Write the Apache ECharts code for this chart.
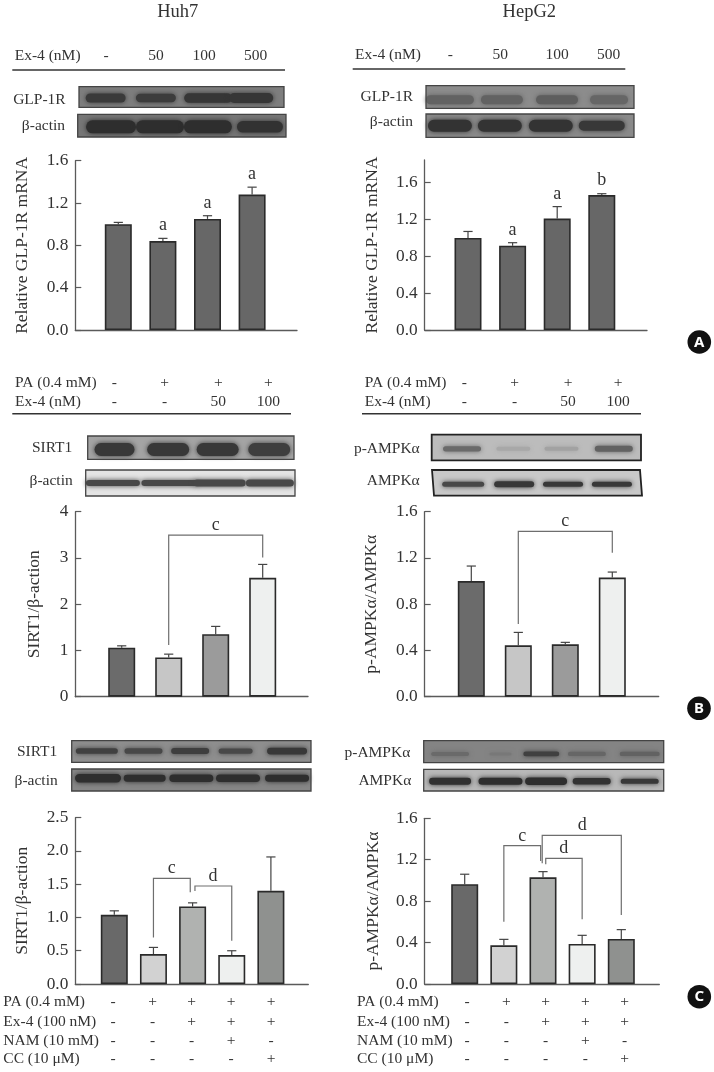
<!DOCTYPE html>
<html><head><meta charset="utf-8">
<style>html,body{margin:0;padding:0;background:#fff}#c{width:714px;height:1072px}</style>
<script src="https://cdn.jsdelivr.net/npm/echarts@6/dist/echarts.min.js"></script>
</head><body><div id="c"></div>
<script>
// ---------- data ----------
const ticksA1 = [0, 0.4, 0.8, 1.2, 1.6];
const ticksA2 = [0, 0.4, 0.8, 1.2, 1.6];
const ticksB1 = [0, 1, 2, 3, 4];
const ticksB2 = [0, 0.4, 0.8, 1.2, 1.6];
const ticksC1 = [0, 0.5, 1.0, 1.5, 2.0, 2.5];
const ticksC2 = [0, 0.4, 0.8, 1.2, 1.6];

const valuesA1 = [1.00, 0.84, 1.05, 1.28];
const topsA1   = [1.017, 0.866, 1.08, 1.35];
const valuesA2 = [1.00, 0.915, 1.21, 1.465];
const topsA2   = [1.07, 0.948, 1.34, 1.48];
const valuesB1 = [1.06, 0.85, 1.35, 2.57];
const topsB1   = [1.10, 0.92, 1.52, 2.86];
const valuesB2 = [1.00, 0.444, 0.453, 1.03];
const topsB2   = [1.13, 0.556, 0.47, 1.078];
const valuesC1 = [1.04, 0.45, 1.165, 0.435, 1.40];
const topsC1   = [1.10, 0.55, 1.22, 0.50, 1.91];
const valuesC2 = [0.963, 0.373, 1.03, 0.386, 0.435];
const topsC2   = [1.06, 0.431, 1.085, 0.47, 0.525];

// letter annotations: [bar position, y value, letter]
const lettersA1 = [[2, 0.986, 'a'], [3, 1.197, 'a'], [4, 1.47, 'a']];
const lettersA2 = [[2, 1.086, 'a'], [3, 1.473, 'a'], [4, 1.63, 'b']];
const lettersB1 = [[3, 3.70, 'c']];
const lettersB2 = [[3, 1.513, 'c']];
const lettersC1 = [[2.47, 1.733, 'c'], [3.52, 1.623, 'd']];
const lettersC2 = [[2.47, 1.43, 'c'], [4, 1.536, 'd'], [3.53, 1.314, 'd']];

// brackets: [left pos, left end, right pos, right end, top]
const bracketsB1 = [[2, 1.117, 4, 3.01, 3.495]];
const bracketsB2 = [[2, 0.628, 4, 1.245, 1.43]];
const bracketsC1 = [[2, 0.70, 2.94, 1.378, 1.588], [3.06, 1.398, 4, 0.651, 1.473]];
const bracketsC2 = [[2, 0.602, 2.94, 1.188, 1.336], [2.98, 1.165, 5, 0.666, 1.436], [3.07, 1.156, 4, 0.625, 1.214]];

const titlesY = ['Relative GLP-1R mRNA', 'Relative GLP-1R mRNA', 'SIRT1/β-action', 'p-AMPKα/AMPKα', 'SIRT1/β-action', 'p-AMPKα/AMPKα'];

const rowA = ['-', '50', '100', '500'];
const rowBPa = ['-', '+', '+', '+'];
const rowBEx = ['-', '-', '50', '100'];
const rowCPa = ['-', '+', '+', '+', '+'];
const rowCEx = ['-', '-', '+', '+', '+'];
const rowCNam = ['-', '-', '-', '+', '-'];
const rowCCc = ['-', '-', '-', '-', '+'];

// ---------- styling / layout ----------
const serif = '"Liberation Serif", serif';
const ink = '#333333';
const lineCol = '#5a5a5a';
const fillA = ['#676767', '#676767', '#676767', '#676767'];
const fillB = ['#6b6b6b', '#c6c6c6', '#9b9b9b', '#eef0ef'];
const fillC = ['#696969', '#d2d2d2', '#b0b2b0', '#eef0ef', '#8f918f'];

const panels = [
  {left:75.3,  right:297,   top:160.7, bottom:330,   first:118.3, step:44.6, max:1.6,   ticks:ticksA1, digits:1, vals:valuesA1, tops:topsA1, fills:fillA, letters:lettersA1, brackets:[], gap:44},
  {left:424.7, right:647,   top:160,   bottom:330,   first:468,   step:44.6, max:1.846, ticks:ticksA2, digits:1, vals:valuesA2, tops:topsA2, fills:fillA, letters:lettersA2, brackets:[], gap:43.5},
  {left:75.3,  right:308,   top:511.7, bottom:696.7, first:121.7, step:47,   max:4,     ticks:ticksB1, digits:0, vals:valuesB1, tops:topsB1, fills:fillB, letters:lettersB1, brackets:bracketsB1, gap:32},
  {left:424.7, right:658.7, top:511.7, bottom:696.7, first:471.3, step:47,   max:1.6,   ticks:ticksB2, digits:1, vals:valuesB2, tops:topsB2, fills:fillB, letters:lettersB2, brackets:bracketsB2, gap:44},
  {left:75.3,  right:308.3, top:817.7, bottom:984,   first:114.3, step:39.15,max:2.5,   ticks:ticksC1, digits:1, vals:valuesC1, tops:topsC1, fills:fillC, letters:lettersC1, brackets:bracketsC1, gap:44},
  {left:424.7, right:659.3, top:818.3, bottom:984,   first:464.7, step:39.15,max:1.6,   ticks:ticksC2, digits:1, vals:valuesC2, tops:topsC2, fills:fillC, letters:lettersC2, brackets:bracketsC2, gap:42}
];

const grid = [], xAxis = [], yAxis = [], series = [];
panels.forEach((p, k) => {
  grid.push({left:p.left, top:p.top, width:p.right-p.left, height:p.bottom-p.top, containLabel:false, outerBoundsMode:'none'});
  const xMin = 1 - (p.first - p.left) / p.step;
  xAxis.push({type:'value', gridIndex:k, min:xMin, max:xMin + (p.right-p.left)/p.step,
    axisLabel:{show:false}, axisTick:{show:false}, splitLine:{show:false},
    axisLine:{show:true, onZero:false, lineStyle:{color:lineCol, width:1.3}}});
  yAxis.push({type:'value', gridIndex:k, min:0, max:p.max,
    name:titlesY[k], nameLocation:'middle', nameGap:p.gap,
    nameTextStyle:{fontFamily:serif, fontSize:17.5, color:ink},
    splitLine:{show:false},
    axisLine:{show:true, onZero:false, lineStyle:{color:lineCol, width:1.3}},
    axisTick:{show:true, inside:true, length:6, customValues:p.ticks, lineStyle:{color:lineCol, width:1.2}},
    axisLabel:{margin:7, fontFamily:serif, fontSize:17.3, color:ink, customValues:p.ticks,
      formatter:v => v.toFixed(p.digits)}});

  series.push({type:'bar', xAxisIndex:k, yAxisIndex:k, barWidth:27, animation:false, clip:false, z:3,
    data:p.vals.map((v,i)=>({value:[i+1,v], itemStyle:{color:p.fills[i], borderColor:'#2a2a2a', borderWidth:1.6}}))});

  series.push({type:'custom', xAxisIndex:k, yAxisIndex:k, animation:false, clip:false, z:2,
    encode:{x:0,y:1},
    data:p.vals.map((v,i)=>[i+1,v,p.tops[i]]),
    renderItem:(params,api)=>{
      const a = api.coord([api.value(0), api.value(1)]);
      const b = api.coord([api.value(0), api.value(2)]);
      const st = {stroke:'#444', lineWidth:1.2, fill:null};
      return {type:'group', children:[
        {type:'line', shape:{x1:a[0],y1:a[1],x2:b[0],y2:b[1]}, style:st},
        {type:'line', shape:{x1:b[0]-4.6,y1:b[1],x2:b[0]+4.6,y2:b[1]}, style:st}
      ]};
    }});

  if (p.brackets.length) series.push({type:'custom', xAxisIndex:k, yAxisIndex:k, animation:false, clip:false, z:4,
    encode:{x:0,y:1},
    data:p.brackets,
    renderItem:(params,api)=>{
      const a = api.coord([api.value(0), api.value(1)]);
      const b = api.coord([api.value(0), api.value(4)]);
      const c = api.coord([api.value(2), api.value(4)]);
      const d = api.coord([api.value(2), api.value(3)]);
      return {type:'polyline', shape:{points:[a,b,c,d]}, style:{stroke:'#6e6e6e', lineWidth:1.2, fill:null}};
    }});

  series.push({type:'custom', xAxisIndex:k, yAxisIndex:k, animation:false, clip:false, z:5,
    encode:{x:0,y:1},
    data:p.letters.map(l=>[l[0],l[1]]),
    renderItem:(params,api)=>{
      const a = api.coord([api.value(0), api.value(1)]);
      return {type:'text', style:{x:a[0], y:a[1], text:p.letters[params.dataIndex][2], align:'center', verticalAlign:'middle',
        font:'18px '+serif, fill:'#333'}};
    }});
});

// ---------- page furniture ----------
const g = [];
const txt = (x,y,text,align='center',size=15.5,extra={}) => g.push({type:'text', silent:true, style:Object.assign({x,y,text,align,verticalAlign:'middle',
  font:size+'px '+serif, fill:ink}, extra)});
const rule = (x1,x2,y) => g.push({type:'line', silent:true, shape:{x1,y1:y,x2,y2:y}, style:{stroke:'#333', lineWidth:1.5}});

txt(177.7,12.5,'Huh7','center',18.5); txt(529.3,12.5,'HepG2','center',18.5);

txt(14.7,56,'Ex-4 (nM)','left'); [106,156,204,255.7].forEach((x,i)=>txt(x,56,rowA[i]));
rule(12.3,285,70);
txt(355,55,'Ex-4 (nM)','left'); [450.3,500.3,557,608.7].forEach((x,i)=>txt(x,55,rowA[i]));
rule(352.7,625.3,69);

txt(15,383.3,'PA (0.4 mM)','left'); txt(15,401.7,'Ex-4 (nM)','left');
[114.3,164.7,218.3,268.3].forEach((x,i)=>{txt(x,383.3,rowBPa[i]); txt(x,401.7,rowBEx[i]);});
rule(12.3,291,413.7);
txt(364.7,383.3,'PA (0.4 mM)','left'); txt(364.7,401.7,'Ex-4 (nM)','left');
[464.3,514.7,568,618].forEach((x,i)=>{txt(x,383.3,rowBPa[i]); txt(x,401.7,rowBEx[i]);});
rule(362,641,413.7);

const rowYs = [1002.3,1021.7,1040.7,1059.3];
const rowNames = ['PA (0.4 mM)','Ex-4 (100 nM)','NAM (10 mM)','CC (10 μM)'];
const rowCells = [rowCPa,rowCEx,rowCNam,rowCCc];
[[3.3,[113,152.7,191.7,231,271]],[357,[467,506.3,545.7,585.3,624.7]]].forEach(([lx,cols])=>{
  rowYs.forEach((y,r)=>{ txt(lx,y,rowNames[r],'left'); cols.forEach((x,i)=>txt(x,y,rowCells[r][i])); });
});

// western-blot strips: rect, background, bands [x frac, half width, half height, colour], band y frac
const blots = [
 {l:'GLP-1R',lx:65.7,ly:100,x0:79,x1:284,y0:86.7,y1:107.3,bg:'#7e7e7e',cy:.55,bands:[[.13,20,4.5,'#3a3a3a'],[.375,20,4.2,'#3c3c3c'],[.63,24,4.8,'#363636'],[.84,22,5,'#363636']]},
 {l:'β-actin',lx:65,ly:126,x0:77.7,x1:286,y0:114.3,y1:137,bg:'#767676',cy:.55,bands:[[.16,25,6.5,'#2e2e2e'],[.395,24,6.5,'#2e2e2e'],[.625,24,6.5,'#2e2e2e'],[.875,23,5.8,'#323232']]},
 {l:'GLP-1R',lx:413,ly:96.7,x0:426,x1:634,y0:85.7,y1:108.3,bg:'#8c8c8c',cy:.62,bands:[[.115,24,4.5,'#626262'],[.365,21,4.5,'#626262'],[.63,21,4.5,'#5e5e5e'],[.88,19,4.5,'#666']]},
 {l:'β-actin',lx:413,ly:122.3,x0:426,x1:634,y0:114,y1:137.3,bg:'#8a8a8a',cy:.5,bands:[[.115,22,6,'#333'],[.355,22,6,'#333'],[.6,22,6,'#333'],[.845,23,5,'#383838']]},
 {l:'SIRT1',lx:72.3,ly:448.3,x0:87.7,x1:294,y0:436,y1:459.3,bg:'#a4a4a4',cy:.58,bands:[[.13,20,6.5,'#383838'],[.39,21,6.5,'#383838'],[.63,21,6.5,'#383838'],[.88,21,6.5,'#3e3e3e']]},
 {l:'β-actin',lx:72.7,ly:480.7,x0:85.7,x1:295,y0:470,y1:496,bg:'#e4e4e4',cy:.5,bands:[[.13,27,3,'#484848'],[.40,28,3,'#484848'],[.64,26,3.5,'#484848'],[.88,24,3.5,'#484848']]},
 {l:'p-AMPKα',lx:419.7,ly:449,x0:431.7,x1:641,y0:434.7,y1:460.3,bg:'#bcbcbc',cy:.55,bw:1.8,bc:'#222',bands:[[.145,19,2.6,'#6a6a6a'],[.39,17,2,'#a8a8a8'],[.62,17,2,'#a2a2a2'],[.87,19,3,'#626262']]},
 {l:'AMPKα',lx:419.7,ly:480.7,x0:432,x1:640,y0:470,y1:495.7,skew:2,bg:'#c8c8c8',cy:.55,bw:1.8,bc:'#222',bands:[[.15,21,2.5,'#484848'],[.395,20,3,'#383838'],[.63,20,2.5,'#383838'],[.865,20,2.5,'#383838']]},
 {l:'SIRT1',lx:57.3,ly:751.7,x0:71.7,x1:311,y0:740.7,y1:762.3,bg:'#8e8e8e',cy:.48,bands:[[.105,21,2.8,'#404040'],[.30,19,2.8,'#484848'],[.495,19,3,'#3e3e3e'],[.685,17,2.6,'#484848'],[.9,20,3.4,'#383838']]},
 {l:'β-actin',lx:57.7,ly:780.7,x0:71.7,x1:311,y0:769,y1:791,bg:'#868686',cy:.42,bands:[[.11,23,4.2,'#2e2e2e'],[.305,21,3.4,'#2e2e2e'],[.5,22,3.8,'#2e2e2e'],[.695,22,3.8,'#2e2e2e'],[.9,22,3.4,'#2e2e2e']]},
 {l:'p-AMPKα',lx:410.3,ly:752.7,x0:423.7,x1:663.7,y0:740.7,y1:762.7,bg:'#848484',cy:.6,bands:[[.11,19,2,'#6a6a6a'],[.32,11,1.5,'#787878'],[.49,18,2.4,'#404040'],[.68,19,2.2,'#666'],[.9,20,2.2,'#626262']]},
 {l:'AMPKα',lx:411.3,ly:781,x0:423.7,x1:663.7,y0:769.3,y1:791,bg:'#b8b8b8',cy:.55,bands:[[.11,21,3.4,'#303030'],[.32,22,3.6,'#2e2e2e'],[.51,21,3.8,'#2e2e2e'],[.70,19,3.2,'#323232'],[.9,19,2.6,'#383838']]}
];
blots.forEach(b=>{
  const s = b.skew||0;
  const pts = [[b.x0,b.y0],[b.x1,b.y0],[b.x1+s,b.y1],[b.x0+s,b.y1]];
  g.push({type:'polygon', silent:true, shape:{points:pts}, style:{fill:b.bg}});
  b.bands.forEach(d=>{
    const cx = b.x0+(b.x1-b.x0)*d[0], cy = b.y0+(b.y1-b.y0)*b.cy;
    g.push({type:'rect', silent:true,
      shape:{x:cx-d[1], y:cy-d[2], width:2*d[1], height:2*d[2], r:d[2]},
      style:{fill:d[3], shadowBlur:5, shadowColor:d[3]}});
  });
  g.push({type:'polygon', silent:true, shape:{points:pts}, style:{fill:null, stroke:b.bc||'#444', lineWidth:b.bw||1.3}});
  txt(b.lx,b.ly,b.l,'right');
});

// panel badges
[['A',699.3,342],['B',699,708.3],['C',699.3,996.7]].forEach(([t,x,y])=>{
  g.push({type:'circle', silent:true, shape:{cx:x,cy:y,r:11.8}, style:{fill:'#111'}});
  g.push({type:'text', silent:true, style:{x,y:y+0.5,text:t,align:'center',verticalAlign:'middle',font:'bold 15px "Noto Sans", sans-serif',fill:'#fff'}});
});

const chart = echarts.init(document.getElementById('c'), null, {renderer:'canvas', width:714, height:1072});
chart.setOption({animation:false, backgroundColor:'#fff', grid, xAxis, yAxis, series, graphic:{elements:g}});
</script></body></html>
